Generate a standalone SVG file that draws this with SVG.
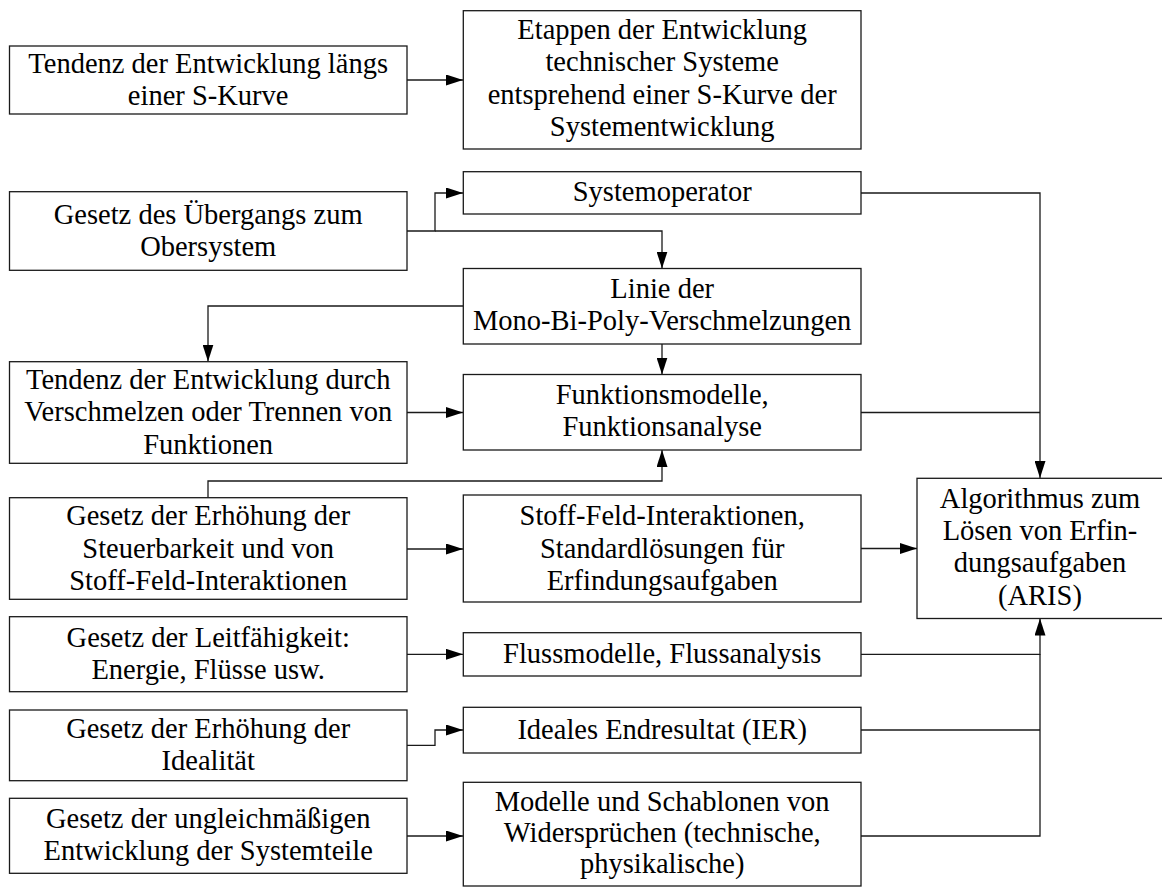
<svg xmlns="http://www.w3.org/2000/svg" width="1162" height="888" viewBox="0 0 1162 888">
<style>
.box{fill:#fff;stroke:#1a1a1a;stroke-width:1.3}
.t{font-family:'Liberation Serif','Times New Roman',serif;font-size:28.5px;fill:#000;text-anchor:middle}
.c{fill:none;stroke:#1a1a1a;stroke-width:1.3}
</style>
<defs>
<marker id="ah" markerUnits="userSpaceOnUse" markerWidth="17" markerHeight="11" refX="17" refY="5.5" orient="auto">
<path d="M0,0 L17,5.5 L0,11 z" fill="#000"/>
</marker>
</defs>
<rect width="1162" height="888" fill="#fff"/>
<g id="connectors">
<path class="c" d="M407,80 H463" marker-end="url(#ah)"/>
<path class="c" d="M407,231 H435 V193 H463" marker-end="url(#ah)"/>
<path class="c" d="M435,231 H662 V268.5" marker-end="url(#ah)"/>
<path class="c" d="M463,306 H208 V361.5" marker-end="url(#ah)"/>
<path class="c" d="M662,344 V374.5" marker-end="url(#ah)"/>
<path class="c" d="M407,412.5 H463" marker-end="url(#ah)"/>
<path class="c" d="M208,497.5 V481 H662 V450" marker-end="url(#ah)"/>
<path class="c" d="M407,549 H463" marker-end="url(#ah)"/>
<path class="c" d="M861,193 H1040 V478" marker-end="url(#ah)"/>
<path class="c" d="M861,412.5 H1040"/>
<path class="c" d="M861,548.5 H917" marker-end="url(#ah)"/>
<path class="c" d="M407,654.3 H463" marker-end="url(#ah)"/>
<path class="c" d="M861,654.3 H1040 V618.5" marker-end="url(#ah)"/>
<path class="c" d="M407,745.3 H435 V730 H463" marker-end="url(#ah)"/>
<path class="c" d="M861,730 H1040"/>
<path class="c" d="M861,836 H1040 V654.3"/>
<path class="c" d="M407,836 H463" marker-end="url(#ah)"/>
</g>
<g id="n_tend_s">
<rect class="box" x="9.5" y="46" width="397.5" height="68"/>
<text class="t" x="208.2" y="72.5">Tendenz der Entwicklung längs</text>
<text class="t" x="208.2" y="104.8">einer S-Kurve</text>
</g>
<g id="n_etappen">
<rect class="box" x="463.3" y="10.7" width="397.7" height="138.3"/>
<text class="t" x="662.2" y="38.5">Etappen der Entwicklung</text>
<text class="t" x="662.2" y="71">technischer Systeme</text>
<text class="t" x="662.2" y="103.5">entsprehend einer S-Kurve der</text>
<text class="t" x="662.2" y="136">Systementwicklung</text>
</g>
<g id="n_uebergang">
<rect class="box" x="9.5" y="191.7" width="397.5" height="78.6"/>
<text class="t" x="208.2" y="223.5">Gesetz des Übergangs zum</text>
<text class="t" x="208.2" y="255.8">Obersystem</text>
</g>
<g id="n_sysop">
<rect class="box" x="463.3" y="171.7" width="397.7" height="42.3"/>
<text class="t" x="662.2" y="201">Systemoperator</text>
</g>
<g id="n_linie">
<rect class="box" x="463.3" y="268.5" width="397.7" height="75.5"/>
<text class="t" x="662.2" y="298">Linie der</text>
<text class="t" x="662.2" y="330.3">Mono-Bi-Poly-Verschmelzungen</text>
</g>
<g id="n_tend_durch">
<rect class="box" x="9.5" y="361.7" width="397.5" height="101.6"/>
<text class="t" x="208.2" y="389">Tendenz der Entwicklung durch</text>
<text class="t" x="208.2" y="421.3">Verschmelzen oder Trennen von</text>
<text class="t" x="208.2" y="453.5">Funktionen</text>
</g>
<g id="n_funk">
<rect class="box" x="463.3" y="374.5" width="397.7" height="75.5"/>
<text class="t" x="662.2" y="404">Funktionsmodelle,</text>
<text class="t" x="662.2" y="436">Funktionsanalyse</text>
</g>
<g id="n_steuer">
<rect class="box" x="9.5" y="497.7" width="397.5" height="101.6"/>
<text class="t" x="208.2" y="525">Gesetz der Erhöhung der</text>
<text class="t" x="208.2" y="557.5">Steuerbarkeit und von</text>
<text class="t" x="208.2" y="589.8">Stoff-Feld-Interaktionen</text>
</g>
<g id="n_stoff">
<rect class="box" x="463.3" y="495" width="397.7" height="107"/>
<text class="t" x="662.2" y="525">Stoff-Feld-Interaktionen,</text>
<text class="t" x="662.2" y="557.5">Standardlösungen für</text>
<text class="t" x="662.2" y="589.8">Erfindungsaufgaben</text>
</g>
<g id="n_aris">
<rect class="box" x="917" y="478.3" width="246" height="140.2"/>
<text class="t" x="1040" y="507.5">Algorithmus zum</text>
<text class="t" x="1040" y="540">Lösen von Erfin-</text>
<text class="t" x="1040" y="572.3">dungsaufgaben</text>
<text class="t" x="1040" y="604.5">(ARIS)</text>
</g>
<g id="n_leit">
<rect class="box" x="9.5" y="616.7" width="397.5" height="75"/>
<text class="t" x="208.2" y="646.5">Gesetz der Leitfähigkeit:</text>
<text class="t" x="208.2" y="678.8">Energie, Flüsse usw.</text>
</g>
<g id="n_fluss">
<rect class="box" x="463.3" y="632.7" width="397.7" height="43.3"/>
<text class="t" x="662.2" y="663">Flussmodelle, Flussanalysis</text>
</g>
<g id="n_ideal">
<rect class="box" x="9.5" y="710" width="397.5" height="70.7"/>
<text class="t" x="208.2" y="737.5">Gesetz der Erhöhung der</text>
<text class="t" x="208.2" y="769.8">Idealität</text>
</g>
<g id="n_ier">
<rect class="box" x="463.3" y="707.3" width="397.7" height="45.7"/>
<text class="t" x="662.2" y="738.6">Ideales Endresultat (IER)</text>
</g>
<g id="n_ungleich">
<rect class="box" x="9.5" y="798.3" width="397.5" height="75"/>
<text class="t" x="208.2" y="828">Gesetz der ungleichmäßigen</text>
<text class="t" x="208.2" y="860.3">Entwicklung der Systemteile</text>
</g>
<g id="n_modelle">
<rect class="box" x="463.3" y="782.3" width="397.7" height="103.7"/>
<text class="t" x="662.2" y="810.5">Modelle und Schablonen von</text>
<text class="t" x="662.2" y="842">Widersprüchen (technische,</text>
<text class="t" x="662.2" y="873">physikalische)</text>
</g>
</svg>
